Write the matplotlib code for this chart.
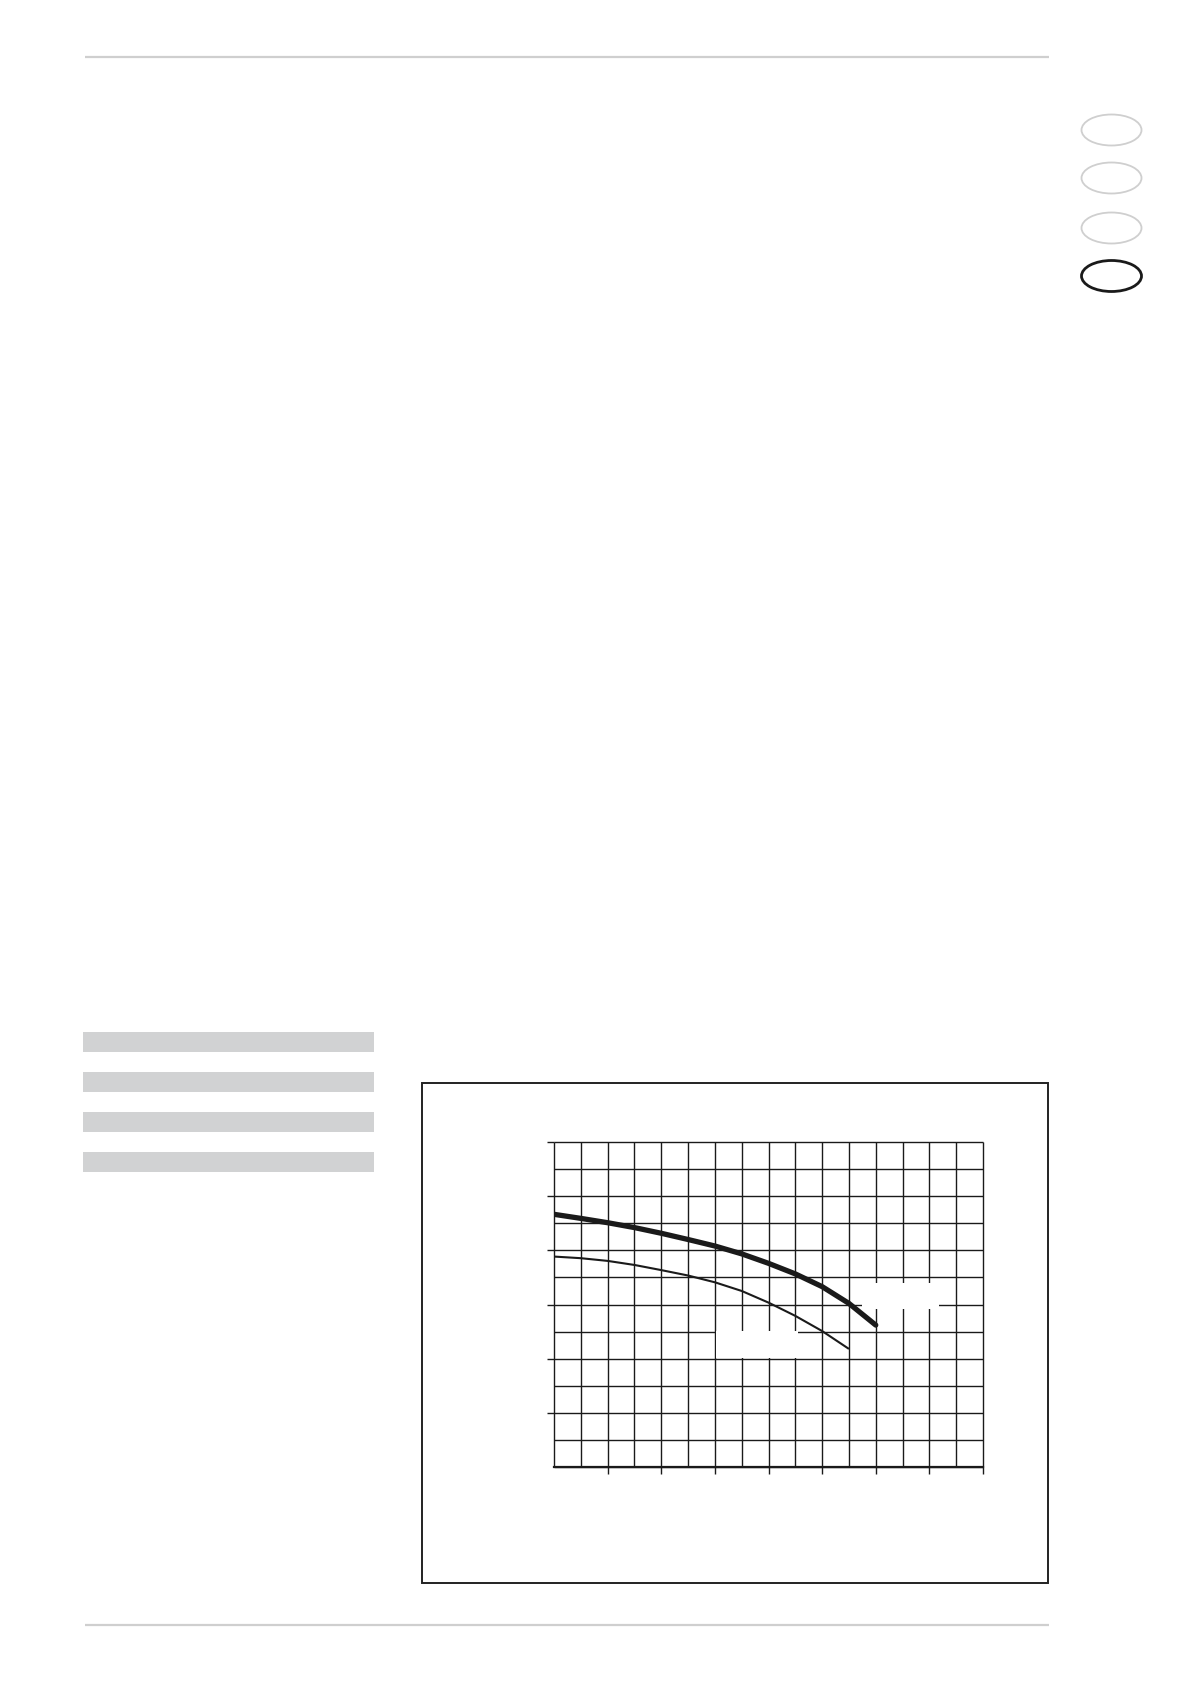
import matplotlib.pyplot as plt
import matplotlib.patches as mpatches
import numpy as np

# curve values (x in grid columns, y in grid rows)
upper_x = [0, 1, 2, 3, 4, 5, 6, 7, 8, 9, 10, 11, 12]
upper_y = [9.33, 9.18, 9.02, 8.84, 8.63, 8.40, 8.16, 7.87, 7.52, 7.13, 6.66, 6.04, 5.24]
lower_x = [0, 1, 2, 3, 4, 5, 6, 7, 8, 9, 10, 11]
lower_y = [7.77, 7.71, 7.61, 7.46, 7.27, 7.07, 6.82, 6.50, 6.07, 5.58, 5.02, 4.36]

x_major = [2, 4, 6, 8, 10, 12, 14, 16]
y_major = [2, 4, 6, 8, 10, 12]
x_max = 16
y_max = 12

W, H = 1190, 1684
fig = plt.figure(figsize=(W / 100, H / 100), dpi=100)

# page layer in pixel coordinates
page = fig.add_axes([0, 0, 1, 1])
page.set_xlim(0, W)
page.set_ylim(H, 0)
page.axis('off')

# header / footer rules
page.plot([85, 1049], [57, 57], color='#cfcfcf', lw=1.6, solid_capstyle='butt')
page.plot([85, 1049], [1625, 1625], color='#cfcfcf', lw=1.6, solid_capstyle='butt')

# language tabs on the right
for i, cy in enumerate([130, 178, 228, 276]):
    last = i == 3
    page.add_patch(mpatches.Ellipse((1111.5, cy), 60, 31, fill=False,
                                    ec='#1a1a1a' if last else '#cfcfcf',
                                    lw=2.0 if last else 1.3))

# grey placeholder bars on the left
for top in [1032, 1072, 1112, 1152]:
    page.add_patch(mpatches.Rectangle((83, top), 291, 20, color='#d1d2d3', lw=0))

# frame around the diagram
page.add_patch(mpatches.Rectangle((422, 1083), 626, 500, fill=False,
                                  ec='#222222', lw=1.4))

# the diagram itself
ax = fig.add_axes([554 / W, 1 - 1467 / H, 429 / W, 325 / H])
ax.set_xlim(0, x_max)
ax.set_ylim(0, y_max)
for s in ['top', 'right', 'left']:
    ax.spines[s].set_visible(False)
ax.spines['bottom'].set_linewidth(1.6)
ax.spines['bottom'].set_color('#1a1a1a')

ax.vlines(range(x_max + 1), 0, y_max, color='#1a1a1a', lw=1.0, clip_on=False)
ax.hlines(range(y_max + 1), 0, x_max, color='#1a1a1a', lw=1.0, clip_on=False)

ax.set_xticks(x_major)
ax.set_yticks(y_major)
ax.set_xticklabels([])
ax.set_yticklabels([])
ax.tick_params(axis='both', direction='out', length=5, width=1.0, color='#1a1a1a')

# blank spots where the curve labels used to be
ax.add_patch(mpatches.Rectangle((11.49, 5.83), 2.87, 0.96, color='white', lw=0, zorder=3))
ax.add_patch(mpatches.Rectangle((6.05, 4.04), 3.05, 1.0, color='white', lw=0, zorder=3))

ax.plot(upper_x, upper_y, color='#1a1a1a', lw=3.8, solid_capstyle='round',
        solid_joinstyle='round', zorder=4)
ax.plot(lower_x, lower_y, color='#1a1a1a', lw=1.5, solid_capstyle='butt',
        solid_joinstyle='round', zorder=4)

fig.savefig('out.png', dpi=100)
